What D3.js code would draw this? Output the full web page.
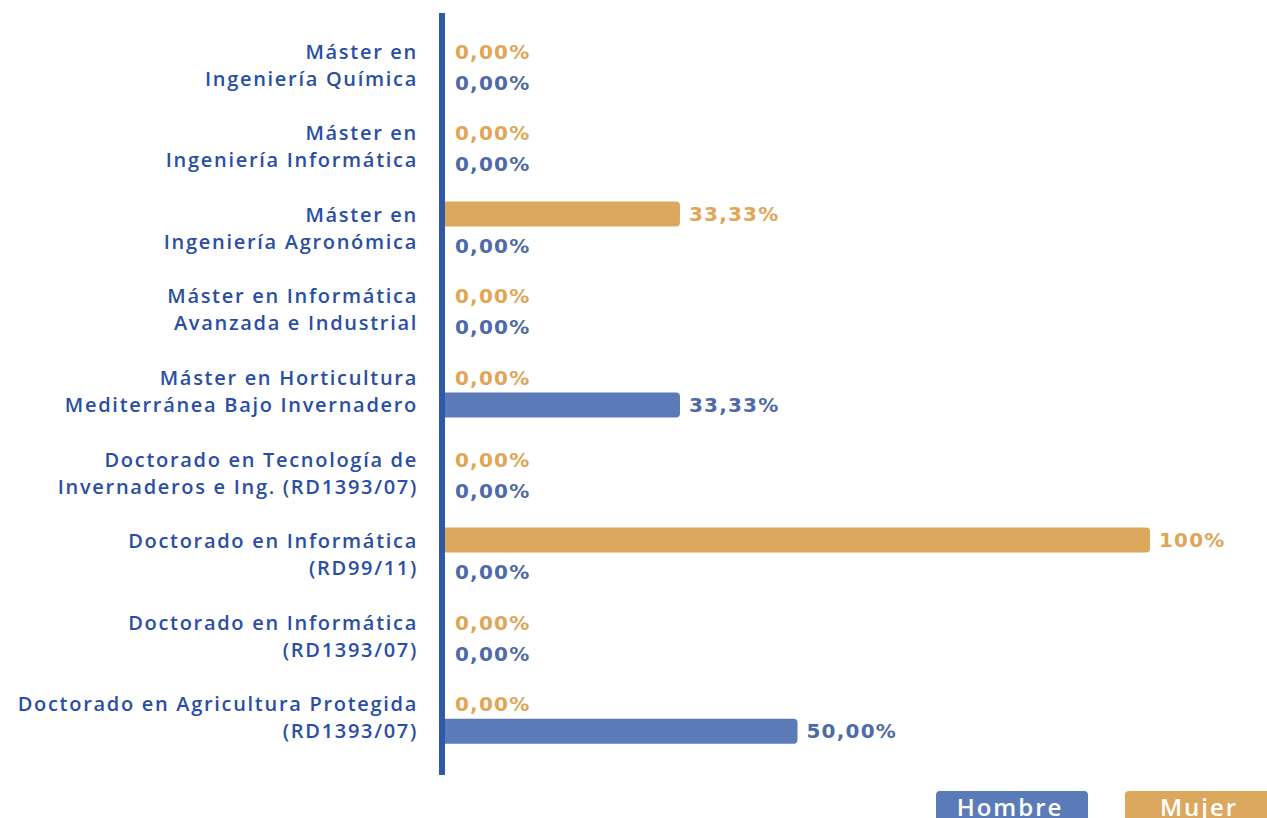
<!DOCTYPE html>
<html>
<head>
<meta charset="utf-8">
<script src="https://cdn.jsdelivr.net/npm/d3@7"></script>
<style>
  html, body { margin: 0; padding: 0; background: #fff; }
  svg { display: block; font-family: "Open Sans", sans-serif; }
</style>
</head>
<body>
<svg id="chart" width="1267" height="818"></svg>
<script>
const categories = [
    ['Máster en', 'Ingeniería Química'],
    ['Máster en', 'Ingeniería Informática'],
    ['Máster en', 'Ingeniería Agronómica'],
    ['Máster en Informática', 'Avanzada e Industrial'],
    ['Máster en Horticultura', 'Mediterránea Bajo Invernadero'],
    ['Doctorado en Tecnología de', 'Invernaderos e Ing. (RD1393/07)'],
    ['Doctorado en Informática', '(RD99/11)'],
    ['Doctorado en Informática', '(RD1393/07)'],
    ['Doctorado en Agricultura Protegida', '(RD1393/07)']
]
const mujer = [0, 0, 33.33, 0, 0, 0, 100, 0, 0]
const hombre = [0, 0, 0, 0, 33.33, 0, 0, 0, 50]
const seriesNames = ['Hombre', 'Mujer']

const blue = '#5b7bb8'
const blueText = '#4f6aa6'
const orange = '#dca85e'
const orangeText = '#e0a658'
const labelColour = '#2a4ea3'
const axisColour = '#2f58a5'

const svg = d3.select('#chart')

const x = d3.scaleLinear().domain([0, 100]).range([445, 1150])
const y = d3.scaleBand()
    .domain(d3.range(categories.length))
    .range([25, 759])

const fmt = v => v === 100 ? '100%' : v.toFixed(2).replace('.', ',') + '%'
const barH = 25

const series = [
    { key: 'mujer', values: mujer, fill: orange, text: orangeText, offset: -15, zeroOffset: -14 },
    { key: 'hombre', values: hombre, fill: blue, text: blueText, offset: 13, zeroOffset: 17 }
]

const valueText = sel => sel
    .style('font-family', '"DejaVu Sans", sans-serif')
    .style('font-size', '20px')
    .style('font-weight', 700)
    .style('letter-spacing', '1.2px')

// category labels
const labels = svg.append('g').attr('class', 'y-labels')
categories.forEach((lines, i) => {
    const c = y(i) + y.bandwidth() / 2
    const t = labels.append('text')
        .attr('x', 418)
        .attr('y', c - 14 + 7)
        .attr('text-anchor', 'end')
        .attr('fill', labelColour)
        .style('font-size', '20px')
        .style('font-weight', 600)
        .style('letter-spacing', '1.7px')
    lines.forEach((line, j) => {
        t.append('tspan').attr('x', 418).attr('dy', j === 0 ? 0 : 27).text(line)
    })
})

// bars and values
series.forEach(s => {
    const g = svg.append('g').attr('class', s.key)
    s.values.forEach((v, i) => {
        const c = y(i) + y.bandwidth() / 2
        if (v > 0) {
            g.append('rect')
                .attr('x', x(0) - 6)
                .attr('y', c + s.offset - barH / 2)
                .attr('width', x(v) - x(0) + 6)
                .attr('height', barH)
                .attr('rx', 4)
                .attr('fill', s.fill)
            g.append('text')
                .attr('x', x(v) + 9)
                .attr('y', c + s.offset + 7)
                .attr('fill', s.text)
                .call(valueText)
                .text(fmt(v))
        } else {
            g.append('text')
                .attr('x', 455)
                .attr('y', c + s.zeroOffset + 7)
                .attr('fill', s.text)
                .call(valueText)
                .text(fmt(v))
        }
    })
})

// vertical axis line
svg.append('rect')
    .attr('x', 439)
    .attr('y', 13)
    .attr('width', 6)
    .attr('height', 762)
    .attr('fill', axisColour)

// legend
const legend = svg.append('g').attr('class', 'legend')
const legendItems = [
    { name: seriesNames[0], fill: blue, x: 936, w: 152 },
    { name: seriesNames[1], fill: orange, x: 1125, w: 160 }
]
legendItems.forEach(d => {
    legend.append('rect')
        .attr('x', d.x)
        .attr('y', 791)
        .attr('width', d.w)
        .attr('height', 40)
        .attr('rx', 4)
        .attr('fill', d.fill)
    legend.append('text')
        .attr('x', d.x + 74)
        .attr('y', 816)
        .attr('text-anchor', 'middle')
        .attr('fill', '#fff')
        .style('font-size', '24px')
        .style('font-weight', 600)
        .style('letter-spacing', '2px')
        .text(d.name)
})
</script>
</body>
</html>
